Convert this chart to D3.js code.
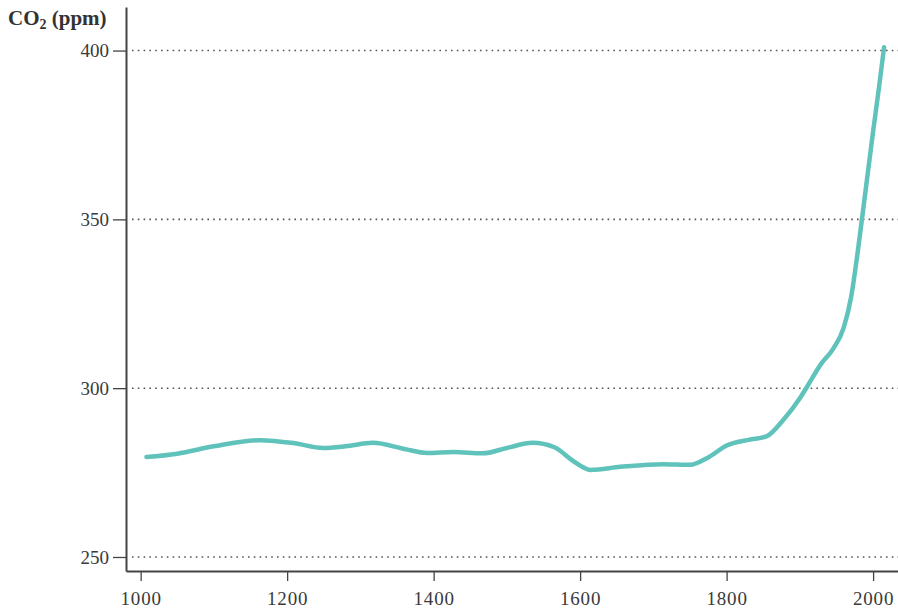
<!DOCTYPE html>
<html>
<head>
<meta charset="utf-8">
<script src="https://cdn.jsdelivr.net/npm/d3@7"></script>
<style>
  body { margin: 0; background: #fff; }
  svg { display: block; }
  .axis text { font-family: "Liberation Serif", "DejaVu Serif", serif; font-size: 19px; fill: #3a3a3a; }
  .axis path, .axis line { stroke: #444; }
</style>
</head>
<body>
<svg></svg>
<script>
// chart data
var years = [1008, 1050, 1100, 1163, 1210, 1249, 1280, 1317, 1360, 1391, 1427, 1467, 1500,
             1535, 1565, 1590, 1614, 1655, 1713, 1750, 1775, 1800, 1830, 1855, 1877, 1900,
             1910, 1930, 1945, 1960, 1970, 1980, 1990, 2000, 2008, 2015];
var co2 = [279.6, 280.6, 282.8, 284.6, 283.7, 282.3, 282.8, 283.8, 282.0, 280.8, 281.1, 280.7, 282.3,
           283.8, 282.5, 278.5, 275.8, 276.7, 277.5, 277.3, 279.5, 283.0, 284.7, 285.8, 290.5, 297,
           300.5, 307.5, 311.5, 318, 327, 342, 359, 376, 389, 401];
var xTicks = [1000, 1200, 1400, 1600, 1800, 2000];
var yTicks = [250, 300, 350, 400];

var width = 898, height = 609;

var svg = d3.select("svg")
    .attr("width", width)
    .attr("height", height);

// scales
var x = d3.scaleLinear().domain([980, 2034]).range([126, 898]);
var y = d3.scaleLinear().domain([245.85, 412.9]).range([571, 7]);

// dotted grid lines
svg.append("g")
  .selectAll("line")
  .data(yTicks)
  .enter()
  .append("line")
    .attr("x1", x(980) + 6)
    .attr("x2", width)
    .attr("y1", function(d) { return y(d); })
    .attr("y2", function(d) { return y(d); })
    .attr("stroke", "#555")
    .attr("stroke-width", 1.6)
    .attr("stroke-dasharray", "1.6,4.2");

// axes
var yAxis = svg.append("g")
    .attr("class", "axis")
    .attr("transform", "translate(" + x(980) + ",0)")
    .call(d3.axisLeft(y).tickValues(yTicks).tickSize(13).tickSizeOuter(0).tickPadding(4));
yAxis.select(".domain").attr("stroke-width", 2);
yAxis.selectAll(".tick line").attr("stroke-width", 1.3);

var xAxis = svg.append("g")
    .attr("class", "axis")
    .attr("transform", "translate(0," + y(245.85) + ")")
    .call(d3.axisBottom(x).tickValues(xTicks).tickFormat(d3.format("d")).tickSize(10).tickSizeOuter(0).tickPadding(11));
xAxis.select(".domain").attr("stroke-width", 2);
xAxis.selectAll(".tick line").attr("stroke-width", 1.3);
xAxis.selectAll(".tick text").attr("letter-spacing", 0.8);

// axis title
var title = svg.append("text")
    .attr("x", 8)
    .attr("y", 25)
    .attr("font-family", "Liberation Serif, DejaVu Serif, serif")
    .attr("font-weight", "bold")
    .attr("font-size", 21)
    .attr("fill", "#333");
title.append("tspan").text("CO");
title.append("tspan").attr("font-size", 14).attr("dy", 4).text("2");
title.append("tspan").attr("dy", -4).text(" (ppm)");

// the curve
var line = d3.line()
    .x(function(d, i) { return x(years[i]); })
    .y(function(d) { return y(d); })
    .curve(d3.curveMonotoneX);

svg.append("path")
    .datum(co2)
    .attr("fill", "none")
    .attr("stroke", "#5fc3bb")
    .attr("stroke-width", 4.5)
    .attr("stroke-linecap", "round")
    .attr("d", line);
</script>
</body>
</html>
